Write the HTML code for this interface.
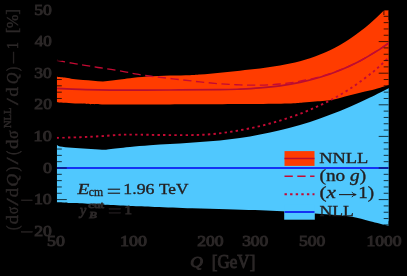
<!DOCTYPE html>
<html><head><meta charset="utf-8"><style>
html,body{margin:0;padding:0;background:#000;width:407px;height:276px;overflow:hidden}
svg{display:block;font-family:"Liberation Serif",serif;will-change:transform}
</style></head><body>
<svg width="407" height="276" viewBox="0 0 407 276"><defs><clipPath id="pc"><rect x="56.8" y="10" width="331.9" height="221.2"/></clipPath></defs><g clip-path="url(#pc)"><path fill="#50c8fe" d="M56.80 144.80C57.33 145.07 57.47 145.90 60.00 146.40C62.53 146.90 67.50 147.40 72.00 147.80C76.50 148.20 82.00 148.47 87.00 148.80C92.00 149.13 98.33 149.73 102.00 149.80C105.67 149.87 106.33 149.47 109.00 149.20C111.67 148.93 114.50 148.57 118.00 148.20C121.50 147.83 124.67 147.48 130.00 147.00C135.33 146.52 143.33 145.78 150.00 145.30C156.67 144.82 163.33 144.52 170.00 144.10C176.67 143.68 183.33 143.27 190.00 142.80C196.67 142.33 203.33 141.90 210.00 141.30C216.67 140.70 223.33 140.02 230.00 139.20C236.67 138.38 243.33 137.50 250.00 136.40C256.67 135.30 263.33 134.03 270.00 132.60C276.67 131.17 283.33 129.58 290.00 127.80C296.67 126.02 303.33 124.07 310.00 121.90C316.67 119.73 323.33 117.33 330.00 114.80C336.67 112.27 343.33 109.58 350.00 106.70C356.67 103.82 363.33 100.72 370.00 97.50C376.67 94.28 386.67 89.08 390.00 87.40L390.00 226.20C386.67 225.37 376.33 222.78 370.00 221.20C363.67 219.62 358.67 217.82 352.00 216.70C345.33 215.58 336.17 215.05 330.00 214.50C323.83 213.95 320.00 213.75 315.00 213.40C310.00 213.05 306.33 212.80 300.00 212.40C293.67 212.00 284.50 211.38 277.00 211.00C269.50 210.62 263.33 210.40 255.00 210.10C246.67 209.80 237.50 209.52 227.00 209.20C216.50 208.88 204.00 208.58 192.00 208.20C180.00 207.82 165.33 207.28 155.00 206.90C144.67 206.52 138.33 206.27 130.00 205.90C121.67 205.53 111.67 205.07 105.00 204.70C98.33 204.33 95.83 204.00 90.00 203.70C84.17 203.40 74.50 203.12 70.00 202.90C65.50 202.68 65.20 202.50 63.00 202.40C60.80 202.30 57.83 202.32 56.80 202.30Z"/><path fill="#ff3c00" d="M56.80 76.80C58.33 76.97 63.30 77.43 66.00 77.80C68.70 78.17 70.17 78.63 73.00 79.00C75.83 79.37 79.67 79.72 83.00 80.00C86.33 80.28 89.67 80.47 93.00 80.70C96.33 80.93 99.83 81.42 103.00 81.40C106.17 81.38 109.17 80.90 112.00 80.60C114.83 80.30 117.00 79.98 120.00 79.60C123.00 79.22 125.50 78.80 130.00 78.30C134.50 77.80 140.33 77.05 147.00 76.60C153.67 76.15 162.83 75.83 170.00 75.60C177.17 75.37 185.00 75.37 190.00 75.20C195.00 75.03 196.67 74.85 200.00 74.60C203.33 74.35 206.67 74.00 210.00 73.70C213.33 73.40 216.67 73.12 220.00 72.80C223.33 72.48 226.67 72.15 230.00 71.80C233.33 71.45 236.67 71.07 240.00 70.70C243.33 70.33 246.67 69.97 250.00 69.60C253.33 69.23 256.67 68.92 260.00 68.50C263.33 68.08 266.67 67.60 270.00 67.10C273.33 66.60 276.67 66.08 280.00 65.50C283.33 64.92 286.67 64.32 290.00 63.60C293.33 62.88 296.67 62.08 300.00 61.20C303.33 60.32 306.67 59.40 310.00 58.30C313.33 57.20 316.67 55.95 320.00 54.60C323.33 53.25 326.67 51.82 330.00 50.20C333.33 48.58 336.67 46.82 340.00 44.90C343.33 42.98 346.67 40.92 350.00 38.70C353.33 36.48 356.67 34.15 360.00 31.60C363.33 29.05 366.67 26.30 370.00 23.40C373.33 20.50 376.67 17.42 380.00 14.20C383.33 10.98 388.33 5.78 390.00 4.10L390.00 84.80C387.50 85.55 379.17 88.18 375.00 89.30C370.83 90.42 368.33 90.72 365.00 91.50C361.67 92.28 358.33 93.17 355.00 94.00C351.67 94.83 348.33 95.63 345.00 96.50C341.67 97.37 338.33 98.48 335.00 99.20C331.67 99.92 328.33 100.40 325.00 100.80C321.67 101.20 318.67 101.30 315.00 101.60C311.33 101.90 307.50 102.27 303.00 102.60C298.50 102.93 296.83 103.35 288.00 103.60C279.17 103.85 269.67 103.97 250.00 104.10C230.33 104.23 194.67 104.33 170.00 104.40C145.33 104.47 116.83 104.63 102.00 104.50C87.17 104.37 88.17 103.95 81.00 103.60C73.83 103.25 63.03 102.75 59.00 102.40C54.97 102.05 57.17 101.65 56.80 101.50Z"/><path fill="none" stroke="#b80e30" stroke-width="1.7" d="M56.80 88.50C60.67 88.65 71.13 89.13 80.00 89.40C88.87 89.67 95.00 90.00 110.00 90.10C125.00 90.20 151.67 90.07 170.00 90.00C188.33 89.93 208.33 89.85 220.00 89.70C231.67 89.55 233.33 89.40 240.00 89.10C246.67 88.80 253.33 88.45 260.00 87.90C266.67 87.35 273.33 86.72 280.00 85.80C286.67 84.88 293.33 83.82 300.00 82.40C306.67 80.98 313.33 79.33 320.00 77.30C326.67 75.27 333.33 72.93 340.00 70.20C346.67 67.47 353.33 64.42 360.00 60.90C366.67 57.38 375.00 52.22 380.00 49.10C385.00 45.98 388.33 43.35 390.00 42.20"/><path fill="none" stroke="#c40a33" stroke-width="1.35" stroke-dasharray="8.3 4.5" d="M56.80 60.30C59.33 60.78 67.30 62.37 72.00 63.20C76.70 64.03 80.67 64.58 85.00 65.30C89.33 66.02 93.67 66.82 98.00 67.50C102.33 68.18 106.50 68.68 111.00 69.40C115.50 70.12 120.67 71.00 125.00 71.80C129.33 72.60 133.00 73.50 137.00 74.20C141.00 74.90 145.17 75.48 149.00 76.00C152.83 76.52 154.83 76.70 160.00 77.30C165.17 77.90 173.33 78.83 180.00 79.60C186.67 80.37 193.33 81.20 200.00 81.90C206.67 82.60 213.33 83.30 220.00 83.80C226.67 84.30 233.33 84.68 240.00 84.90C246.67 85.12 253.33 85.25 260.00 85.10C266.67 84.95 273.33 84.65 280.00 84.00C286.67 83.35 293.33 82.42 300.00 81.20C306.67 79.98 313.33 78.58 320.00 76.70C326.67 74.82 333.33 72.55 340.00 69.90C346.67 67.25 353.33 64.30 360.00 60.80C366.67 57.30 375.00 52.07 380.00 48.90C385.00 45.73 388.33 42.98 390.00 41.80"/><path fill="none" stroke="#c40a33" stroke-width="1.9" stroke-dasharray="2.4 3.2" d="M56.80 137.80C60.67 137.70 72.80 137.47 80.00 137.20C87.20 136.93 93.33 136.60 100.00 136.20C106.67 135.80 114.17 135.07 120.00 134.80C125.83 134.53 128.33 134.57 135.00 134.60C141.67 134.63 150.83 134.92 160.00 135.00C169.17 135.08 181.67 135.22 190.00 135.10C198.33 134.98 203.33 134.83 210.00 134.30C216.67 133.77 223.33 132.90 230.00 131.90C236.67 130.90 243.33 129.70 250.00 128.30C256.67 126.90 263.33 125.32 270.00 123.50C276.67 121.68 283.33 119.68 290.00 117.40C296.67 115.12 303.33 112.63 310.00 109.80C316.67 106.97 323.33 103.90 330.00 100.40C336.67 96.90 343.33 93.15 350.00 88.80C356.67 84.45 365.00 78.13 370.00 74.30C375.00 70.47 376.67 68.80 380.00 65.80C383.33 62.80 388.33 57.88 390.00 56.30"/><rect x="284.5" y="151.1" width="30" height="14.8" fill="#ff3c00"/><line x1="284.5" y1="158.5" x2="314.5" y2="158.5" stroke="#b80e30" stroke-width="1.6"/><line x1="284.5" y1="176.2" x2="314.5" y2="176.2" stroke="#c40a33" stroke-width="1.35" stroke-dasharray="8.3 4.5"/><line x1="284.5" y1="194.2" x2="314.5" y2="194.2" stroke="#c40a33" stroke-width="1.9" stroke-dasharray="2.4 3.2"/><rect x="284.2" y="204.9" width="30.6" height="14.8" fill="#50c8fe"/><line x1="284.5" y1="212" x2="314.5" y2="212" stroke="#0000f0" stroke-width="1.6"/><line x1="56.8" y1="168" x2="388.7" y2="168" stroke="#0000f0" stroke-width="1.6"/><path d="M56.8 231.20h10M388.7 231.20h-10M56.8 224.88h5M388.7 224.88h-5M56.8 218.56h5M388.7 218.56h-5M56.8 212.24h5M388.7 212.24h-5M56.8 205.92h5M388.7 205.92h-5M56.8 199.60h10M388.7 199.60h-10M56.8 193.28h5M388.7 193.28h-5M56.8 186.96h5M388.7 186.96h-5M56.8 180.64h5M388.7 180.64h-5M56.8 174.32h5M388.7 174.32h-5M56.8 168.00h10M388.7 168.00h-10M56.8 161.68h5M388.7 161.68h-5M56.8 155.36h5M388.7 155.36h-5M56.8 149.04h5M388.7 149.04h-5M56.8 142.72h5M388.7 142.72h-5M56.8 136.40h10M388.7 136.40h-10M56.8 130.08h5M388.7 130.08h-5M56.8 123.76h5M388.7 123.76h-5M56.8 117.44h5M388.7 117.44h-5M56.8 111.12h5M388.7 111.12h-5M56.8 104.80h10M388.7 104.80h-10M56.8 98.48h5M388.7 98.48h-5M56.8 92.16h5M388.7 92.16h-5M56.8 85.84h5M388.7 85.84h-5M56.8 79.52h5M388.7 79.52h-5M56.8 73.20h10M388.7 73.20h-10M56.8 66.88h5M388.7 66.88h-5M56.8 60.56h5M388.7 60.56h-5M56.8 54.24h5M388.7 54.24h-5M56.8 47.92h5M388.7 47.92h-5M56.8 41.60h10M388.7 41.60h-10M56.8 35.28h5M388.7 35.28h-5M56.8 28.96h5M388.7 28.96h-5M56.8 22.64h5M388.7 22.64h-5M56.8 16.32h5M388.7 16.32h-5M56.8 10.00h10M388.7 10.00h-10M56.80 231.2v-10M56.80 10v10M133.59 231.2v-10M133.59 10v10M210.39 231.2v-10M210.39 10v10M255.31 231.2v-10M255.31 10v10M311.90 231.2v-10M311.90 10v10M388.69 231.2v-10M388.69 10v10M77.00 231.2v-5M77.00 10v5M94.08 231.2v-5M94.08 10v5M108.87 231.2v-5M108.87 10v5M121.92 231.2v-5M121.92 10v5M287.18 231.2v-5M287.18 10v5M332.10 231.2v-5M332.10 10v5M349.18 231.2v-5M349.18 10v5M363.97 231.2v-5M363.97 10v5M377.02 231.2v-5M377.02 10v5M383.9 10v5" stroke="#000" stroke-width="0.75" fill="none"/></g><g font-family="Liberation Serif" fill="#231f20" stroke="#231f20" stroke-width="0.35"><text x="34.2" y="15.1" font-size="15.54" textLength="17.64" lengthAdjust="spacingAndGlyphs"  fill="#2b2727" stroke="#2b2727" stroke-width="0.9">50</text><text x="34.85" y="46.0" font-size="14.85" textLength="17.0" lengthAdjust="spacingAndGlyphs"  fill="#2b2727" stroke="#2b2727" stroke-width="0.9">40</text><text x="34.35" y="77.8" font-size="14.99" textLength="17.5" lengthAdjust="spacingAndGlyphs"  fill="#2b2727" stroke="#2b2727" stroke-width="0.9">30</text><text x="34.35" y="109.4" font-size="14.85" textLength="17.59" lengthAdjust="spacingAndGlyphs"  fill="#2b2727" stroke="#2b2727" stroke-width="0.9">20</text><text x="33.6" y="141.1" font-size="14.85" textLength="18.22" lengthAdjust="spacingAndGlyphs"  fill="#2b2727" stroke="#2b2727" stroke-width="0.9">10</text><text x="42.95" y="172.9" font-size="15.13" textLength="9.02" lengthAdjust="spacingAndGlyphs"  fill="#2b2727" stroke="#2b2727" stroke-width="0.9">0</text><text x="34.0" y="204.4" font-size="14.85" textLength="17.69" lengthAdjust="spacingAndGlyphs"  fill="#2b2727" stroke="#2b2727" stroke-width="0.9">10</text><text x="34.25" y="235.8" font-size="14.85" textLength="17.59" lengthAdjust="spacingAndGlyphs"  fill="#2b2727" stroke="#2b2727" stroke-width="0.9">20</text><text x="47.0" y="245.9" font-size="13.88" textLength="17.87" lengthAdjust="spacingAndGlyphs"  fill="#2b2727" stroke="#2b2727" stroke-width="0.9">50</text><text x="120.1" y="245.9" font-size="13.88" textLength="26.93" lengthAdjust="spacingAndGlyphs"  fill="#2b2727" stroke="#2b2727" stroke-width="0.9">100</text><text x="197.15" y="245.9" font-size="13.88" textLength="26.38" lengthAdjust="spacingAndGlyphs"  fill="#2b2727" stroke="#2b2727" stroke-width="0.9">200</text><text x="242.15" y="245.9" font-size="13.88" textLength="26.17" lengthAdjust="spacingAndGlyphs"  fill="#2b2727" stroke="#2b2727" stroke-width="0.9">300</text><text x="299.0" y="245.9" font-size="13.88" textLength="26.33" lengthAdjust="spacingAndGlyphs"  fill="#2b2727" stroke="#2b2727" stroke-width="0.9">500</text><text x="366.5" y="245.9" font-size="13.88" textLength="35.16" lengthAdjust="spacingAndGlyphs"  fill="#2b2727" stroke="#2b2727" stroke-width="0.9">1000</text><text x="319.25" y="162.95" font-size="15.52" textLength="49.14" lengthAdjust="spacingAndGlyphs" >NNLL</text><text x="319.45" y="215.75" font-size="15.52" textLength="34.4" lengthAdjust="spacingAndGlyphs" >NLL</text><text x="319.55" y="180.65" font-size="16.08" textLength="46.53" lengthAdjust="spacingAndGlyphs" >(no <tspan font-style="italic">g</tspan>)</text><text x="319.55" y="198.35" font-size="16.84" textLength="16.39" lengthAdjust="spacingAndGlyphs" >(<tspan font-style="italic">x</tspan></text><text x="358.3" y="198.35" font-size="16.84" textLength="15.92" lengthAdjust="spacingAndGlyphs" >1)</text><text x="77.4" y="193.65" font-size="14.34" textLength="11.79" lengthAdjust="spacingAndGlyphs" font-style="italic">E</text><text x="88.75" y="196.15" font-size="12.2" textLength="14.34" lengthAdjust="spacingAndGlyphs" >cm</text><text x="123.35" y="194.15" font-size="14.31" textLength="31.09" lengthAdjust="spacingAndGlyphs" >1.96</text><text x="159.0" y="193.85" font-size="14.32" textLength="29.42" lengthAdjust="spacingAndGlyphs" >TeV</text><text x="79.9" y="215.25" font-size="15.54" textLength="6.22" lengthAdjust="spacingAndGlyphs" font-style="italic" fill="#2b2727" stroke="#2b2727" stroke-width="0.9">y</text><text x="88.25" y="208.2" font-size="8.58" textLength="15.54" lengthAdjust="spacingAndGlyphs"  fill="#2b2727" stroke="#2b2727" stroke-width="0.9">cut</text><text x="89.2" y="217.8" font-size="8.5" textLength="7.47" lengthAdjust="spacingAndGlyphs" font-style="italic" fill="#2b2727" stroke="#2b2727" stroke-width="0.9">B</text><text x="124.55" y="213.9" font-size="12.77" textLength="7.41" lengthAdjust="spacingAndGlyphs"  fill="#2b2727" stroke="#2b2727" stroke-width="0.9">1</text><text x="190.2" y="267.05" font-size="14.85" textLength="12.63" lengthAdjust="spacingAndGlyphs" font-style="italic" fill="#2b2727" stroke="#2b2727" stroke-width="0.9">Q</text><text x="211.85" y="268.25" font-size="17.91" textLength="43.46" lengthAdjust="spacingAndGlyphs"  fill="#2b2727" stroke="#2b2727" stroke-width="0.9">[GeV]</text><rect x="21.3" y="199.90" width="11.2" height="0.8" fill="#2b2727" stroke="#2b2727" stroke-width="0.4"/><rect x="21.3" y="231.50" width="11.2" height="0.8" fill="#2b2727" stroke="#2b2727" stroke-width="0.4"/><rect x="107.9" y="188.90" width="12.10" height="0.8"/><rect x="107.9" y="192.90" width="12.10" height="0.8"/><rect x="109.0" y="208.50" width="11.80" height="0.8"/><rect x="109.0" y="212.50" width="11.80" height="0.8"/><path d="M339 194.6H355.5" stroke="#231f20" stroke-width="1.1" fill="none"/><path d="M351.8 192.2Q353.5 194.2 356.2 194.6Q353.5 195 351.8 197" stroke="#231f20" stroke-width="1" fill="none"/><g transform="translate(17.8,240) rotate(-90)" fill="#2b2727" stroke="#2b2727" stroke-width="0.45"><text x="10.0" y="0" font-size="17" textLength="4.41" lengthAdjust="spacingAndGlyphs" >(</text><text x="15.75" y="0" font-size="17" textLength="9.16" lengthAdjust="spacingAndGlyphs" >d</text><text x="25.9" y="0" font-size="17" textLength="7.22" lengthAdjust="spacingAndGlyphs" >σ</text><text x="34.4" y="0" font-size="17" textLength="7.33" lengthAdjust="spacingAndGlyphs" >/</text><text x="42.85" y="0" font-size="17" textLength="9.16" lengthAdjust="spacingAndGlyphs" >d</text><text x="53.4" y="0" font-size="17" textLength="12.62" lengthAdjust="spacingAndGlyphs" font-style="italic">Q</text><text x="68.5" y="0" font-size="17" textLength="4.85" lengthAdjust="spacingAndGlyphs" >)</text><text x="75.8" y="0" font-size="17" textLength="6.88" lengthAdjust="spacingAndGlyphs" >/</text><text x="85.3" y="0" font-size="17" textLength="4.0" lengthAdjust="spacingAndGlyphs" >(</text><text x="91.05" y="0" font-size="17" textLength="9.61" lengthAdjust="spacingAndGlyphs" >d</text><text x="101.3" y="0" font-size="17" textLength="8.32" lengthAdjust="spacingAndGlyphs" >σ</text><text x="112.05" y="-7.2" font-size="10.2" textLength="20.39" lengthAdjust="spacingAndGlyphs" >NLL</text><text x="135.0" y="0" font-size="17" textLength="6.88" lengthAdjust="spacingAndGlyphs" >/</text><text x="143.25" y="0" font-size="17" textLength="9.61" lengthAdjust="spacingAndGlyphs" >d</text><text x="155.7" y="0" font-size="17" textLength="11.56" lengthAdjust="spacingAndGlyphs" font-style="italic">Q</text><text x="169.0" y="0" font-size="17" textLength="4.04" lengthAdjust="spacingAndGlyphs" >)</text><text x="190.95" y="0" font-size="17" textLength="6.87" lengthAdjust="spacingAndGlyphs" >1</text><text x="206.65" y="0" font-size="17" textLength="24.1" lengthAdjust="spacingAndGlyphs" >[%]</text><rect x="176.8" y="-4.65" width="11.2" height="0.8"/></g></g></svg>
</body></html>
